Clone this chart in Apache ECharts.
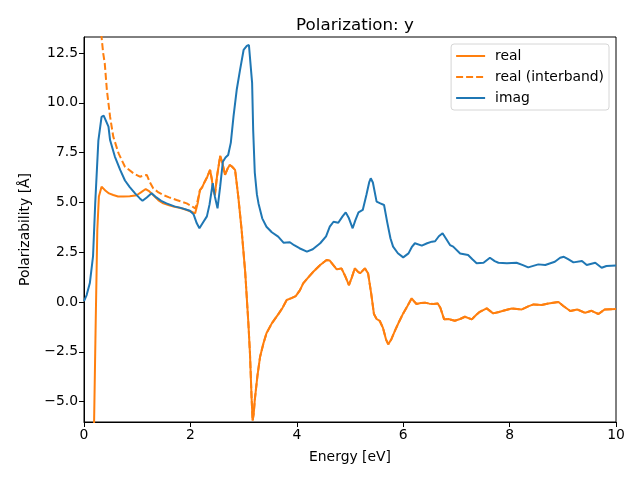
<!DOCTYPE html>
<html><head><meta charset="utf-8">
<script src="https://cdn.jsdelivr.net/npm/echarts@6/dist/echarts.min.js"></script>
<style>html,body{margin:0;padding:0;background:#fff}#c{width:640px;height:480px}</style>
</head><body><div id="c"></div>
<script>
const imagE = [0.00,0.05,0.11,0.17,0.21,0.27,0.33,0.37,0.46,0.49,0.58,0.68,0.77,0.86,0.96,1.05,1.10,1.18,1.27,1.36,1.45,1.55,1.70,1.85,1.99,2.06,2.12,2.17,2.24,2.31,2.36,2.42,2.46,2.51,2.56,2.61,2.66,2.71,2.76,2.81,2.87,2.93,3.00,3.06,3.10,3.13,3.16,3.18,3.21,3.25,3.28,3.35,3.43,3.53,3.65,3.75,3.87,3.95,4.05,4.19,4.30,4.44,4.55,4.62,4.69,4.78,4.86,4.92,4.98,5.05,5.10,5.16,5.24,5.31,5.36,5.39,5.43,5.50,5.57,5.64,5.70,5.76,5.81,5.90,6.00,6.10,6.16,6.22,6.35,6.45,6.54,6.60,6.67,6.74,6.80,6.88,6.94,7.07,7.22,7.30,7.38,7.51,7.63,7.72,7.79,7.95,8.13,8.25,8.35,8.54,8.67,8.85,8.95,9.02,9.10,9.20,9.36,9.45,9.61,9.73,9.82,10.0];
const imagV = [0.05,0.35,0.95,2.3,4.9,8.1,9.29,9.35,8.8,8.13,7.3,6.63,6.1,5.77,5.45,5.2,5.08,5.25,5.46,5.25,5.08,4.95,4.8,4.7,4.58,4.4,3.95,3.70,4.0,4.3,4.9,5.96,5.3,4.70,5.8,7.04,7.25,7.38,8.0,9.3,10.64,11.6,12.65,12.85,12.9,13.0,11.0,8.63,6.5,5.4,4.95,4.2,3.78,3.5,3.28,2.98,3.0,2.85,2.7,2.53,2.65,2.95,3.3,3.78,4.03,3.98,4.3,4.50,4.2,3.70,4.1,4.50,4.62,5.4,6.0,6.21,6.0,5.04,4.95,4.87,4.0,3.2,2.78,2.45,2.24,2.44,2.75,2.95,2.83,2.95,3.03,3.05,3.3,3.45,3.2,2.86,2.78,2.44,2.36,2.15,1.95,1.97,2.22,2.05,1.97,1.95,1.97,1.85,1.74,1.89,1.86,2.02,2.22,2.27,2.15,1.99,2.06,1.86,1.97,1.72,1.81,1.83];

const realE = [0.17,0.19,0.22,0.25,0.28,0.33,0.40,0.47,0.55,0.64,0.74,0.86,0.99,1.07,1.16,1.23,1.30,1.40,1.49,1.60,1.70,1.80,1.92,2.02,2.09,2.14,2.18,2.22,2.27,2.32,2.37,2.40,2.43,2.46,2.50,2.56,2.60,2.65,2.70,2.74,2.78,2.84,2.90,2.96,3.03,3.09,3.12,3.15,3.17,3.19,3.21,3.26,3.31,3.37,3.43,3.53,3.65,3.73,3.81,3.90,3.98,4.06,4.12,4.22,4.31,4.44,4.56,4.62,4.65,4.75,4.84,4.91,4.98,5.03,5.09,5.14,5.19,5.28,5.34,5.40,5.45,5.50,5.56,5.62,5.68,5.72,5.78,5.85,5.92,6.00,6.08,6.16,6.20,6.25,6.33,6.41,6.49,6.57,6.65,6.70,6.77,6.85,6.97,7.07,7.16,7.29,7.37,7.44,7.57,7.69,7.80,7.88,8.04,8.23,8.35,8.45,8.60,8.73,8.92,9.01,9.14,9.27,9.42,9.54,9.67,9.79,10.0];
const realV = [-9,-6.0,-1.0,3.6,5.3,5.79,5.6,5.45,5.37,5.30,5.29,5.31,5.36,5.5,5.67,5.55,5.37,5.10,4.95,4.85,4.78,4.73,4.63,4.53,4.45,5.0,5.62,5.75,6.04,6.3,6.63,6.2,5.6,5.37,6.3,7.33,7.0,6.38,6.7,6.88,6.8,6.63,5.29,3.7,1.5,-1.07,-2.6,-4.8,-5.95,-5.6,-4.92,-3.7,-2.74,-2.1,-1.57,-1.07,-0.62,-0.3,0.10,0.20,0.3,0.60,0.94,1.25,1.52,1.86,2.11,2.08,2.02,1.64,1.69,1.3,0.85,1.2,1.69,1.55,1.44,1.69,1.44,0.4,-0.6,-0.85,-0.95,-1.3,-1.9,-2.12,-1.85,-1.41,-1.0,-0.57,-0.2,0.19,0.05,-0.10,-0.05,-0.03,-0.08,-0.10,-0.07,-0.3,-0.87,-0.85,-0.94,-0.85,-0.74,-0.87,-0.65,-0.49,-0.32,-0.57,-0.50,-0.44,-0.32,-0.37,-0.22,-0.12,-0.15,-0.07,0.0,-0.20,-0.45,-0.37,-0.54,-0.44,-0.60,-0.37,-0.35];

const interE = [0.30,0.33,0.36,0.39,0.43,0.49,0.55,0.65,0.77,0.93,1.05,1.12,1.18,1.24,1.30,1.40,1.49,1.60,1.74,1.85,1.93,2.02,2.09,2.12];
const interV = [16,13.3,12.5,11.98,10.64,9.30,8.30,7.46,6.79,6.46,6.29,6.35,6.38,6.0,5.71,5.5,5.37,5.25,5.12,5.02,4.95,4.82,4.70,4.9];

const yTicks = [-5, -2.5, 0, 2.5, 5, 7.5, 10, 12.5];
const xTicks = [0, 2, 4, 6, 8, 10];

const pairs = (xs, ys) => xs.map((x, i) => [x, ys[i]]);
// interband curve coincides with the real curve from 2.14 eV on
const startIdx = realE.indexOf(2.14);
const interData = pairs(interE, interV).concat(pairs(realE.slice(startIdx), realV.slice(startIdx)));

const FONT = 'DejaVu Sans';
const chart = echarts.init(document.getElementById('c'), null, {renderer: 'canvas'});
chart.setOption({
  animation: false,
  backgroundColor: '#ffffff',
  title: {
    text: 'Polarization: y', left: 350, top: 12, textAlign: 'center',
    textStyle: {fontFamily: FONT, fontSize: 16.7, fontWeight: 'normal', color: '#000'}
  },
  grid: {left: 84, right: 24, top: 37, bottom: 58, show: true, borderColor: '#000', borderWidth: 1, backgroundColor: 'transparent'},
  legend: {
    orient: 'vertical', right: 31, top: 44,
    data: ['real', 'real (interband)', 'imag'],
    itemWidth: 29, itemHeight: 14, itemGap: 7,
    padding: [5, 5, 5, 4],
    itemStyle: {opacity: 0},
    lineStyle: {width: 2},
    backgroundColor: '#fff', borderColor: '#d6d6d6', borderWidth: 1, borderRadius: 3,
    textStyle: {fontFamily: FONT, fontSize: 13.9, color: '#000', padding: [0, 0, 0, 5]}
  },
  xAxis: {
    type: 'value', min: 0, max: 10, interval: 2,
    name: 'Energy [eV]', nameLocation: 'middle', nameGap: 28,
    nameTextStyle: {fontFamily: FONT, fontSize: 13.9, color: '#000'},
    axisLine: {show: true, onZero: false, lineStyle: {color: '#000', width: 1}},
    axisTick: {show: true, length: 5, lineStyle: {color: '#000'}, customValues: xTicks},
    axisLabel: {fontFamily: FONT, fontSize: 13.9, color: '#000', margin: 6, customValues: xTicks, formatter: v => String(v)},
    splitLine: {show: false}
  },
  yAxis: {
    type: 'value', min: -6.02, max: 13.3,
    name: 'Polarizability [Å]', nameLocation: 'middle', nameGap: 52,
    nameTextStyle: {fontFamily: FONT, fontSize: 13.9, color: '#000'},
    axisLine: {show: true, onZero: false, lineStyle: {color: '#000', width: 1}},
    axisTick: {show: true, length: 5, lineStyle: {color: '#000'}, customValues: yTicks},
    axisLabel: {fontFamily: FONT, fontSize: 13.9, color: '#000', margin: 6, customValues: yTicks,
      formatter: v => (v < 0 ? '\u2212' : '') + Math.abs(v).toFixed(1)},
    splitLine: {show: false}
  },
  series: [
    {name: 'real', type: 'line', data: pairs(realE, realV), showSymbol: false, symbol: 'none', clip: true,
     lineStyle: {color: '#ff7f0e', width: 2}, itemStyle: {color: '#ff7f0e'}, z: 2},
    {name: 'real (interband)', type: 'line', data: interData, showSymbol: false, symbol: 'none', clip: true,
     lineStyle: {color: '#ff7f0e', width: 2, type: [7, 3]}, itemStyle: {color: '#ff7f0e'}, z: 2},
    {name: 'imag', type: 'line', data: pairs(imagE, imagV), showSymbol: false, symbol: 'none', clip: true,
     lineStyle: {color: '#1f77b4', width: 2}, itemStyle: {color: '#1f77b4'}, z: 3}
  ]
});
</script>
</body></html>
